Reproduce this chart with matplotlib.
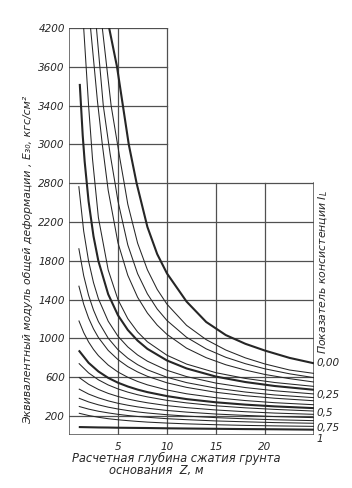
import matplotlib
matplotlib.use('Agg')
import matplotlib.pyplot as plt

# y ticks (E30, kgf/cm2) and x ticks (Z, m)
y_ticks = [200, 600, 1000, 1400, 1800, 2200, 2600, 3000, 3400, 3800, 4200]
y_labels = ['200', '600', '1000', '1400', '1800', '2200', '2800', '3000', '3400', '3600', '4200']
x_ticks = [5, 10, 15, 20]
x_max = 25
y_top = 4200
# corner of the L-shaped frame
z_break = 10
e_break = 2600

# curves that run off the top
z_k0 = [4.1, 4.9, 5.5, 6.1, 6.9, 8, 9, 10, 12, 14, 16, 18, 20, 22.5, 25]
e_k0 = [4200, 3800, 3400, 3000, 2600, 2150, 1870, 1670, 1380, 1170, 1035, 945, 875, 800, 744]
z_t4 = [3.4, 4.3, 5.2, 5.6, 6, 7, 8, 9, 10, 12, 14, 16, 18, 20, 22.5, 25]
e_t4 = [4200, 3400, 2850, 2620, 2384, 1983, 1708, 1506, 1353, 1135, 988, 881, 800, 737, 675, 640]
z_t3 = [2.8, 3.5, 4.2, 4.7, 5, 6, 7, 8, 9, 10, 12, 14, 16, 18, 20, 22.5, 25]
e_t3 = [4200, 3400, 2900, 2600, 2414, 1964, 1668, 1460, 1304, 1185, 1012, 893, 806, 740, 687, 636, 596]
z_t2 = [2.2, 2.9, 3.4, 4, 5, 6, 7, 8, 9, 10, 12, 14, 16, 18, 20, 22.5, 25]
e_t2 = [4200, 3450, 3000, 2527, 1985, 1651, 1425, 1262, 1138, 1042, 900, 802, 729, 674, 629, 586, 551]
z_t1 = [1.5, 2, 2.4, 3, 4, 5, 6, 7, 8, 10, 12, 15, 18, 21, 25]
e_t1 = [4200, 3400, 2850, 2246, 1706, 1400, 1204, 1067, 966, 827, 736, 647, 588, 546, 506]
z_s1 = [1.1, 1.4, 1.6, 2, 2.5, 3, 4, 5, 6, 7, 8, 10, 12, 15, 18, 21, 25]
e_s1 = [3624, 3093, 2823, 2413, 2054, 1798, 1456, 1239, 1088, 978, 893, 773, 691, 607, 551, 510, 471]

# curves starting at the left edge
z_mid = [1, 1.5, 2, 2.5, 3, 4, 5, 6, 7, 8, 10, 12, 15, 18, 21, 25]
e_s2 = [2570, 2106, 1797, 1576, 1410, 1178, 1023, 913, 830, 766, 672, 607, 540, 494, 461, 428]
e_s3 = [1930, 1647, 1444, 1293, 1174, 1003, 884, 797, 730, 677, 600, 545, 488, 448, 418, 390]
e_s4 = [1544, 1353, 1210, 1099, 1010, 877, 782, 710, 655, 610, 543, 496, 445, 410, 384, 358]
e_s5 = [1185, 1061, 964, 887, 823, 726, 654, 600, 557, 522, 469, 430, 389, 360, 338, 317]

z_low = [1, 2, 3, 4, 5, 6, 7, 8, 10, 12, 15, 18, 21, 25]
e_s6 = [877, 749, 660, 594, 544, 505, 473, 447, 406, 375, 342, 318, 300, 282]
e_s7 = [744, 645, 574, 521, 480, 447, 420, 398, 362, 336, 306, 285, 269, 252]
e_s8 = [600, 528, 475, 434, 402, 376, 355, 337, 308, 287, 263, 245, 231, 218]
e_s9 = [480, 427, 388, 357, 332, 312, 295, 281, 258, 241, 221, 207, 195, 184]
e_s10 = [385, 346, 316, 292, 273, 257, 243, 232, 214, 200, 184, 172, 162, 153]
e_s11 = [300, 272, 250, 233, 218, 206, 196, 188, 173, 163, 150, 141, 133, 126]
e_s12 = [230, 206, 188, 173, 162, 153, 145, 138, 128, 120, 111, 104, 99, 94]
e_s13 = [87, 85, 83, 82, 80, 79, 78, 77, 74, 72, 69, 66, 64, 60]

# consistency index labels on the right
il_labels = ['0,00', '0,25', '0,5', '0,75', '1']
il_levels = [744, 415, 230, 77, -40]

ink = '#262626'
grid_ink = '#505050'
thin = 0.75
thick = 1.5

fig = plt.figure(figsize=(3.52, 4.88), dpi=100)
ax = fig.add_axes([0.196, 0.1076, 0.696, 0.835])
ax.set_xlim(0, x_max)
ax.set_ylim(0, y_top)
for s in ax.spines.values():
    s.set_visible(False)

# grid and L-shaped frame
for y in y_ticks:
    right = x_max if y <= e_break else z_break
    ax.plot([0, right], [y, y], color=grid_ink, lw=0.9, zorder=1)
for x in x_ticks:
    top = y_top if x <= z_break else e_break
    ax.plot([x, x], [0, top], color=grid_ink, lw=0.9, zorder=1)
ax.plot([0, x_max], [0, 0], color=grid_ink, lw=1.1, zorder=1)
ax.plot([0, 0], [0, y_top], color=grid_ink, lw=1.1, zorder=1)
ax.plot([x_max, x_max], [0, e_break], color=grid_ink, lw=1.1, zorder=1)

curves = [
    (z_k0, e_k0, thick), (z_t4, e_t4, thin), (z_t3, e_t3, thin),
    (z_t2, e_t2, thin), (z_t1, e_t1, thin), (z_s1, e_s1, thick),
    (z_mid, e_s2, thin), (z_mid, e_s3, thin), (z_mid, e_s4, thin),
    (z_mid, e_s5, thin), (z_low, e_s6, thick), (z_low, e_s7, thin),
    (z_low, e_s8, thin), (z_low, e_s9, thin), (z_low, e_s10, thin),
    (z_low, e_s11, thin), (z_low, e_s12, thin), (z_low, e_s13, thick),
]
for z, e, w in curves:
    ax.plot(z, e, color=ink, lw=w, zorder=2, solid_capstyle='butt')

ax.set_yticks(y_ticks)
ax.set_yticklabels(y_labels, fontsize=7.5, style='italic', color=ink)
ax.set_xticks(x_ticks)
ax.set_xticklabels([str(x) for x in x_ticks], fontsize=7.5, style='italic', color=ink)
ax.tick_params(length=0, pad=3)
ax.tick_params(axis='x', pad=5)

for lab, lev in zip(il_labels, il_levels):
    ax.text(x_max + 0.25, lev, lab, fontsize=7.5, style='italic', color=ink,
            ha='left', va='center', clip_on=False)

fig.text(0.08, 0.467, 'Эквивалентный модуль общей деформации , E₃₀, кгс/см²',
         rotation=90, ha='center', va='center', fontsize=7.8, style='italic', color=ink)
fig.text(0.918, 0.443, 'Показатель консистенции $I_L$',
         rotation=90, ha='center', va='center', fontsize=7.8, style='italic', color=ink)
fig.text(0.5, 0.061, 'Расчетная глубина сжатия грунта',
         ha='center', va='center', fontsize=8.3, style='italic', color=ink)
fig.text(0.445, 0.035, 'основания  Z, м',
         ha='center', va='center', fontsize=8.3, style='italic', color=ink)

fig.savefig('out.png', dpi=100, facecolor='white')
